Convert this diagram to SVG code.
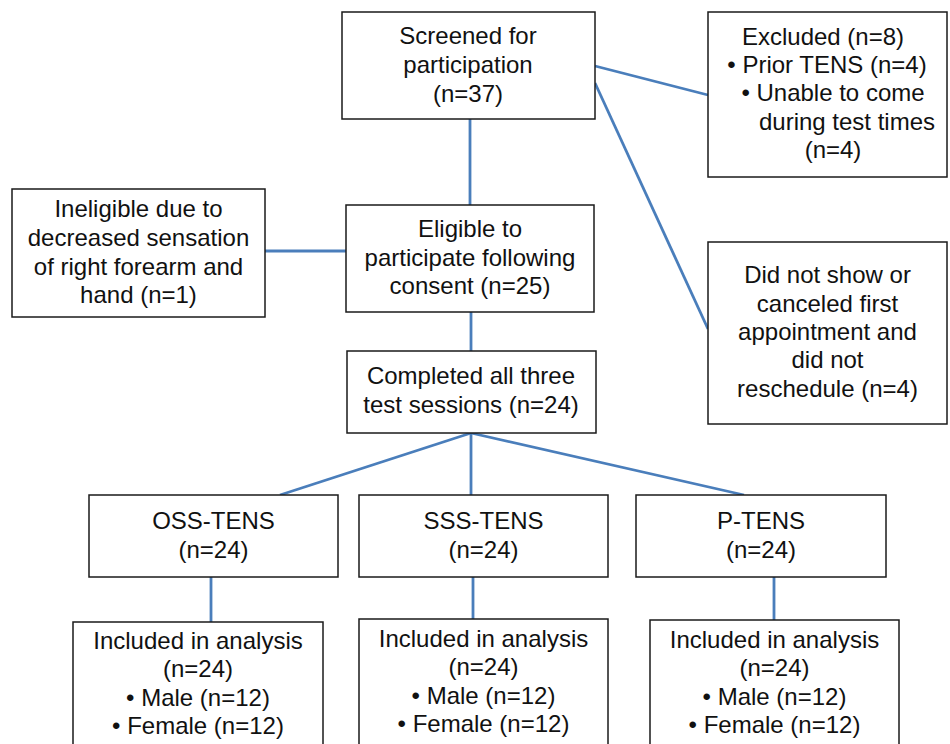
<svg xmlns="http://www.w3.org/2000/svg" width="950" height="744" viewBox="0 0 950 744">
<style>
.box{fill:#fff;stroke:#1a1a1a;stroke-width:1.5}
.t{font-family:"Liberation Sans",Arial,sans-serif;font-size:24px;fill:#111;text-anchor:middle}
.c{stroke:#4a7ebb;stroke-width:2.8;fill:none}
</style>
<rect width="950" height="744" fill="#fff"/>
<g id="connectors">
<line class="c" x1="470" y1="119" x2="470" y2="205"/>
<line class="c" x1="265" y1="251" x2="346" y2="251"/>
<line class="c" x1="471" y1="312" x2="471" y2="351"/>
<line class="c" x1="595" y1="66" x2="708" y2="95"/>
<line class="c" x1="595" y1="83" x2="708" y2="329"/>
<line class="c" x1="471" y1="433" x2="280" y2="495"/>
<line class="c" x1="471" y1="433" x2="471" y2="495"/>
<line class="c" x1="471" y1="433" x2="744" y2="495"/>
<line class="c" x1="211" y1="577" x2="211" y2="622"/>
<line class="c" x1="473" y1="577" x2="473" y2="619"/>
<line class="c" x1="774" y1="577" x2="774" y2="620"/>
</g>
<g id="screened">
<rect class="box" x="342" y="12" width="253" height="107"/>
<text class="t" x="468" y="44">Screened for</text>
<text class="t" x="468" y="73">participation</text>
<text class="t" x="468" y="102">(n=37)</text>
</g>
<g id="excluded">
<rect class="box" x="708" y="12" width="239" height="165"/>
<text class="t" x="823" y="45">Excluded (n=8)</text>
<text class="t" x="827" y="73">• Prior TENS (n=4)</text>
<text class="t" x="833" y="101">• Unable to come</text>
<text class="t" x="847" y="130">during test times</text>
<text class="t" x="833" y="158">(n=4)</text>
</g>
<g id="ineligible">
<rect class="box" x="12" y="189" width="253" height="128"/>
<text class="t" x="138.5" y="217">Ineligible due to</text>
<text class="t" x="138.5" y="246">decreased sensation</text>
<text class="t" x="138.5" y="275">of right forearm and</text>
<text class="t" x="138.5" y="303">hand (n=1)</text>
</g>
<g id="eligible">
<rect class="box" x="346" y="205" width="248" height="107"/>
<text class="t" x="470" y="237">Eligible to</text>
<text class="t" x="470" y="266">participate following</text>
<text class="t" x="470" y="294">consent (n=25)</text>
</g>
<g id="noshow">
<rect class="box" x="708" y="242" width="239" height="182"/>
<text class="t" x="827.5" y="283">Did not show or</text>
<text class="t" x="827.5" y="312">canceled first</text>
<text class="t" x="827.5" y="340">appointment and</text>
<text class="t" x="827.5" y="368">did not</text>
<text class="t" x="827.5" y="397">reschedule (n=4)</text>
</g>
<g id="completed">
<rect class="box" x="347" y="351" width="249" height="82"/>
<text class="t" x="471" y="384">Completed all three</text>
<text class="t" x="471" y="413">test sessions (n=24)</text>
</g>
<g id="oss">
<rect class="box" x="89" y="495" width="249" height="82"/>
<text class="t" x="213.5" y="529">OSS-TENS</text>
<text class="t" x="213.5" y="558">(n=24)</text>
</g>
<g id="sss">
<rect class="box" x="359" y="495" width="249" height="82"/>
<text class="t" x="483.5" y="529">SSS-TENS</text>
<text class="t" x="483.5" y="558">(n=24)</text>
</g>
<g id="ptens">
<rect class="box" x="636" y="495" width="250" height="82"/>
<text class="t" x="761" y="529">P-TENS</text>
<text class="t" x="761" y="558">(n=24)</text>
</g>
<g id="incl-oss">
<rect class="box" x="73" y="622" width="250" height="140"/>
<text class="t" x="198" y="649">Included in analysis</text>
<text class="t" x="198" y="677">(n=24)</text>
<text class="t" x="198" y="706">• Male (n=12)</text>
<text class="t" x="198" y="734">• Female (n=12)</text>
</g>
<g id="incl-sss">
<rect class="box" x="359" y="619" width="249" height="140"/>
<text class="t" x="483.5" y="647">Included in analysis</text>
<text class="t" x="483.5" y="675">(n=24)</text>
<text class="t" x="483.5" y="704">• Male (n=12)</text>
<text class="t" x="483.5" y="732">• Female (n=12)</text>
</g>
<g id="incl-ptens">
<rect class="box" x="650" y="620" width="249" height="140"/>
<text class="t" x="774.5" y="648">Included in analysis</text>
<text class="t" x="774.5" y="676">(n=24)</text>
<text class="t" x="774.5" y="705">• Male (n=12)</text>
<text class="t" x="774.5" y="733">• Female (n=12)</text>
</g>
</svg>
